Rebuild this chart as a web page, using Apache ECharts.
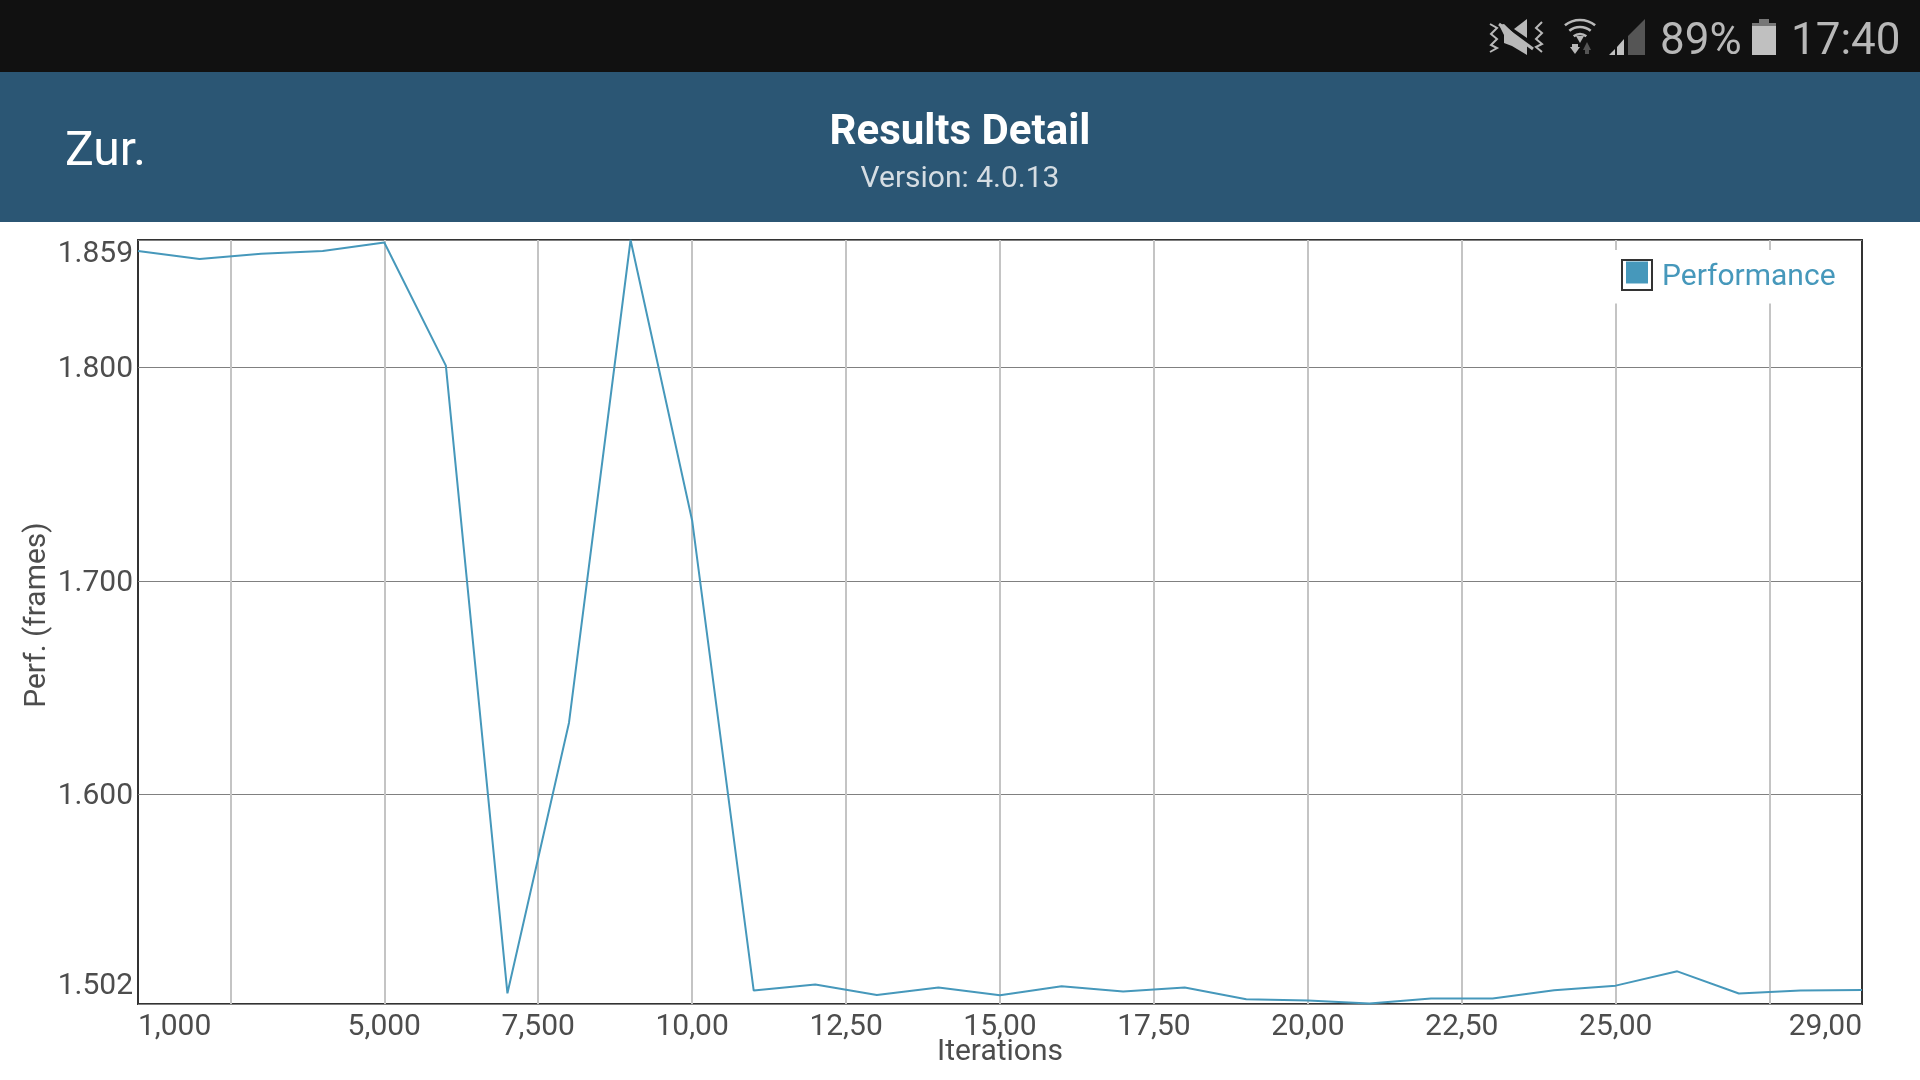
<!DOCTYPE html>
<html>
<head>
<meta charset="utf-8">
<title>Results Detail</title>
<style>
html, body { margin: 0; padding: 0; background: #fff; }
#main { width: 1920px; height: 1080px; }
</style>
<script src="https://cdn.jsdelivr.net/npm/echarts@6/dist/echarts.min.js"></script>
</head>
<body>
<div id="main"></div>
<script>
var iterations = [1000, 2000, 3000, 4000, 5000, 6000, 7000, 8000, 9000, 10000, 11000, 12000, 13000, 14000, 15000,
    16000, 17000, 18000, 19000, 20000, 21000, 22000, 23000, 24000, 25000, 26000, 27000, 28000, 29000];
var performance_ = [1.8545, 1.8507, 1.8532, 1.8545, 1.8584, 1.8008, 1.5069, 1.6336, 1.8596, 1.7283, 1.5082, 1.511, 1.5061, 1.5096, 1.506,
    1.5102, 1.5077, 1.5096, 1.5041, 1.5035, 1.5021, 1.5045, 1.5045, 1.5083, 1.5105, 1.5172, 1.5068, 1.5082, 1.5085];

var xGridValues = [2500, 5000, 7500, 10000, 12500, 15000, 17500, 20000, 22500, 25000, 27500];
var xLabelValues = [1000, 5000, 7500, 10000, 12500, 15000, 17500, 20000, 22500, 25000, 29000];
var xLabelTexts = ['1,000', '5,000', '7,500', '10,00', '12,50', '15,00', '17,50', '20,00', '22,50', '25,00', '29,00'];
var yValues = [1.5019, 1.6, 1.7, 1.8, 1.8596];
var yLabelTexts = ['1.502', '1.600', '1.700', '1.800', '1.859'];

var fontName = 'Roboto';
var seriesColor = '#4698bb';
var barColor = '#b8b8b8';
var labelColor = '#4d4d4d';

var chart = echarts.init(document.getElementById('main'));

function headerText(text, x, y, size, color, align, weight) {
    return {
        type: 'text',
        z: 10,
        style: {
            text: text,
            x: x,
            y: y,
            fill: color,
            align: align,
            verticalAlign: 'middle',
            font: (weight || 'normal') + ' ' + size + 'px ' + fontName
        }
    };
}

function poly(points, color) {
    return { type: 'polygon', z: 10, shape: { points: points }, style: { fill: color } };
}

function wifiArc(r, start, end) {
    return {
        type: 'arc',
        z: 10,
        shape: { cx: 1580, cy: 44, r: r, startAngle: start, endAngle: end },
        style: { stroke: barColor, lineWidth: 2.6, fill: null }
    };
}

// status bar and title bar are plain shapes, the chart only starts below them
var graphicItems = [
    { type: 'rect', z: 5, shape: { x: 0, y: 0, width: 1920, height: 72 }, style: { fill: '#111111' } },
    { type: 'rect', z: 5, shape: { x: 0, y: 72, width: 1920, height: 150 }, style: { fill: '#2b5674' } },
    headerText('Zur.', 65, 153, 48, '#ffffff', 'left'),
    headerText('Results Detail', 960, 133, 42, '#ffffff', 'center', 'bold'),
    headerText('Version: 4.0.13', 960, 179, 30, '#d5dde3', 'center'),
    headerText('89%', 1660, 43, 44, barColor, 'left'),
    headerText('17:40', 1791, 43, 44, barColor, 'left'),
    // battery
    { type: 'rect', z: 10, shape: { x: 1752, y: 24, width: 24, height: 31 }, style: { fill: '#c0c0c0' } },
    { type: 'rect', z: 10, shape: { x: 1752, y: 23, width: 24, height: 3 }, style: { fill: '#777777' } },
    { type: 'rect', z: 10, shape: { x: 1759, y: 19, width: 10, height: 5 }, style: { fill: '#777777' } },
    // signal
    poly([[1609, 55], [1615, 49], [1615, 55]], '#c0c0c0'),
    poly([[1617, 55], [1617, 47], [1624, 39], [1624, 55]], '#c0c0c0'),
    poly([[1628, 55], [1628, 36], [1645, 19], [1645, 55]], '#555555'),
    // wifi
    wifiArc(24, -2.25, -0.89),
    wifiArc(17, -2.25, -0.89),
    wifiArc(10, -2.25, -0.89),
    poly([[1576, 36], [1584, 36], [1580, 43]], barColor),
    poly([[1572, 47], [1578, 47], [1578, 44], [1572, 44]], barColor),
    poly([[1570, 47], [1580, 47], [1575, 54]], barColor),
    poly([[1583, 50], [1591, 50], [1587, 42]], '#555555'),
    { type: 'rect', z: 10, shape: { x: 1585, y: 49, width: 4, height: 5 }, style: { fill: '#555555' } },
    // muted speaker
    poly([[1499, 25], [1504, 24], [1527, 46], [1527, 55], [1512, 46], [1504, 43], [1504, 35]], barColor),
    poly([[1514, 29], [1527, 19], [1527, 38]], barColor),
    { type: 'line', z: 10, shape: { x1: 1499, y1: 24, x2: 1533, y2: 49 }, style: { stroke: barColor, lineWidth: 3 } },
    { type: 'polyline', z: 10, shape: { points: [[1490, 24], [1497, 28], [1491, 34], [1497, 39], [1491, 45], [1497, 48], [1490, 52]] }, style: { stroke: barColor, lineWidth: 2, fill: null } },
    { type: 'polyline', z: 10, shape: { points: [[1542, 22], [1536, 28], [1542, 33], [1536, 39], [1542, 44], [1536, 47], [1542, 52]] }, style: { stroke: barColor, lineWidth: 2, fill: null } },
    // outline round the legend swatch
    { type: 'rect', z: 10, shape: { x: 1622, y: 260, width: 30, height: 30 }, style: { stroke: '#333333', lineWidth: 2, fill: null } }
];

function yLabelStyle(lineHeight) {
    return { color: labelColor, fontSize: 30, fontFamily: fontName, lineHeight: lineHeight };
}

var option = {
    backgroundColor: '#ffffff',
    animation: false,
    textStyle: { fontFamily: fontName },
    graphic: graphicItems,
    legend: {
        show: true,
        left: 1610,
        top: 250,
        padding: [11.5, 16, 11.5, 16],
        backgroundColor: '#ffffff',
        icon: 'rect',
        itemWidth: 22,
        itemHeight: 22,
        formatter: '{a|{name}}',
        textStyle: {
            color: seriesColor,
            fontSize: 30,
            fontFamily: fontName,
            rich: { a: { color: seriesColor, fontSize: 30, fontFamily: fontName, padding: [9, 0, 0, 9] } }
        },
        data: ['Performance']
    },
    grid: {
        show: true,
        outerBoundsMode: 'none',
        left: 138,
        right: 58,
        top: 240,
        bottom: 76,
        borderColor: '#333333',
        borderWidth: 2,
        backgroundColor: '#ffffff'
    },
    xAxis: {
        type: 'value',
        min: 1000,
        max: 29000,
        name: 'Iterations',
        nameLocation: 'middle',
        nameGap: 33,
        nameMoveOverlap: false,
        nameTextStyle: { color: labelColor, fontSize: 30, fontFamily: fontName },
        axisLine: { show: false },
        axisTick: { show: false, customValues: xGridValues },
        splitLine: { show: true, lineStyle: { color: '#c4c4c4', width: 2 } },
        axisLabel: {
            customValues: xLabelValues,
            alignMinLabel: 'left',
            alignMaxLabel: 'right',
            margin: 8,
            color: labelColor,
            fontSize: 30,
            fontFamily: fontName,
            formatter: function (v) {
                return xLabelTexts[xLabelValues.indexOf(v)];
            }
        }
    },
    yAxis: {
        type: 'value',
        min: 1.5019,
        max: 1.8596,
        name: 'Perf. (frames)',
        nameLocation: 'middle',
        nameGap: 86,
        nameMoveOverlap: false,
        nameTextStyle: { color: labelColor, fontSize: 30, fontFamily: fontName, padding: [0, 0, 0, 14] },
        axisLine: { show: false },
        axisTick: { show: false, customValues: yValues },
        splitLine: { show: true, lineStyle: { color: '#808080', width: 1 } },
        axisLabel: {
            customValues: yValues,
            margin: 5,
            color: labelColor,
            fontSize: 30,
            fontFamily: fontName,
            rich: {
                v: yLabelStyle(30),
                above: yLabelStyle(29),
                below: yLabelStyle(36),
                nudge: yLabelStyle(5)
            },
            // the end labels sit inside the plot, a blank line pushes them off the border
            formatter: function (v) {
                var i = yValues.indexOf(v);
                var text = '{v|' + yLabelTexts[i] + '}';
                if (i === 0) {
                    return text + '\n{below| }';
                }
                if (i === yValues.length - 1) {
                    return '{above| }\n' + text;
                }
                return '{nudge| }\n' + text;
            }
        }
    },
    series: [{
        name: 'Performance',
        type: 'line',
        symbol: 'none',
        showSymbol: false,
        clip: false,
        color: seriesColor,
        lineStyle: { color: seriesColor, width: 2 },
        data: iterations.map(function (it, i) {
            return [it, performance_[i]];
        })
    }]
};
chart.setOption(option);
</script>
</body>
</html>
